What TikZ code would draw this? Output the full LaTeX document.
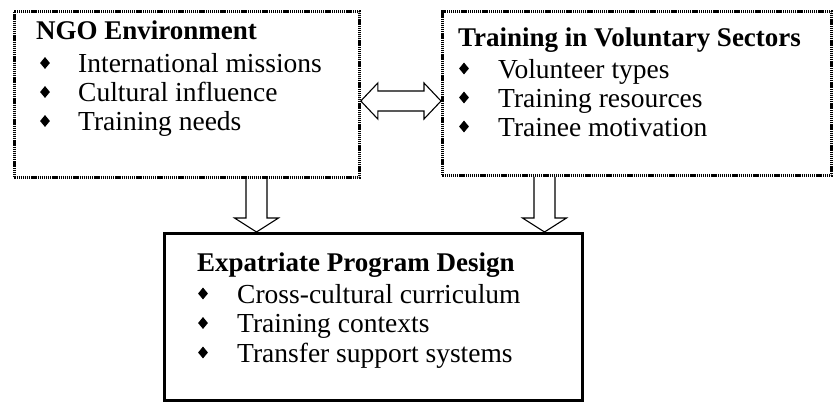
\documentclass[tikz,border=0pt]{standalone}
\usepackage{fontspec}
\setmainfont{Liberation Serif}
\usetikzlibrary{calc,positioning,shapes.geometric}

\begin{document}
\begin{tikzpicture}[
    x=1pt, y=-1pt,
    dotbox/.style={draw, line width=2.8pt, dash pattern=on 1.3pt off 0.8pt, anchor=north west, inner sep=0pt},
    solidbox/.style={draw, line width=2.6pt, anchor=north west, inner sep=0pt},
    head/.style={anchor=base west, inner sep=0pt, font=\fontsize{27}{29}\selectfont\bfseries},
    txt/.style={anchor=base west, inner sep=0pt, font=\fontsize{27.5}{29}\selectfont},
    bul/.style={diamond, fill, inner sep=0pt, minimum width=10pt, minimum height=12pt},
    blockarrow/.style={draw, line width=1.1pt, line join=miter}
  ]
    \useasboundingbox (0,0) rectangle (833,410);

    % boxes
    \node[dotbox, minimum width=345pt, minimum height=166pt] (ngo) at (13,10) {};
    \node[dotbox, minimum width=389pt, minimum height=164pt] (train) at (441,10) {};
    \node[solidbox, minimum width=418pt, minimum height=167pt] (prog) at (163,232) {};

    % texts
    \node[head] (ngohead) at (36,39) {NGO Environment};
    \foreach \t [count=\i] in {International missions, Cultural influence, Training needs} {
      \node[bul] (ngob\i) at ($(ngohead.base west)+(9,24+29*\i-29)$) {};
      \node[txt] (ngoi\i) at ($(ngohead.base west)+(42,33.5+29*\i-29)$) {\t};
    }

    \node[head] (trainhead) at (458,46) {Training in Voluntary Sectors};
    \foreach \t [count=\i] in {Volunteer types, Training resources, Trainee motivation} {
      \node[bul] (trainb\i) at ($(trainhead.base west)+(6,22.5+29*\i-29)$) {};
      \node[txt] (traini\i) at ($(trainhead.base west)+(40,32+29*\i-29)$) {\t};
    }

    \node[head] (proghead) at (197,271) {Expatriate Program Design};
    \foreach \t [count=\i] in {Cross-cultural curriculum, Training contexts, Transfer support systems} {
      \node[bul] (progb\i) at ($(proghead.base west)+(6,22.5+29.5*\i-29.5)$) {};
      \node[txt] (progi\i) at ($(proghead.base west)+(40,32+29.5*\i-29.5)$) {\t};
    }

    % block arrows
    \coordinate (lt) at (ngo.east |- 0,101);
    \coordinate (rt) at (train.west |- 0,101);
    \draw[blockarrow] (lt) -- ++(17,-18) -- ++(0,8) -- ($(rt)+(-17,-10)$) -- ++(0,-8) -- (rt)
      -- ++(-17,18) -- ++(0,-8) -- ($(lt)+(17,10)$) -- ++(0,8) -- cycle;

    \coordinate (ngoout) at (ngo.south -| 256.5,0);
    \coordinate (progin1) at (prog.north -| 256.5,0);
    \draw[blockarrow] ($(ngoout)+(-10.5,0)$) -- ($(progin1)+(-10.5,-14)$) -- ($(progin1)+(-22,-14)$)
      -- (progin1) -- ($(progin1)+(22,-14)$) -- ($(progin1)+(10.5,-14)$) -- ($(ngoout)+(10.5,0)$);

    \coordinate (trainout) at (train.south -| 544.5,0);
    \coordinate (progin2) at (prog.north -| 544.5,0);
    \draw[blockarrow] ($(trainout)+(-10.5,0)$) -- ($(progin2)+(-10.5,-14)$) -- ($(progin2)+(-22,-14)$)
      -- (progin2) -- ($(progin2)+(22,-14)$) -- ($(progin2)+(10.5,-14)$) -- ($(trainout)+(10.5,0)$);
\end{tikzpicture}
\end{document}
